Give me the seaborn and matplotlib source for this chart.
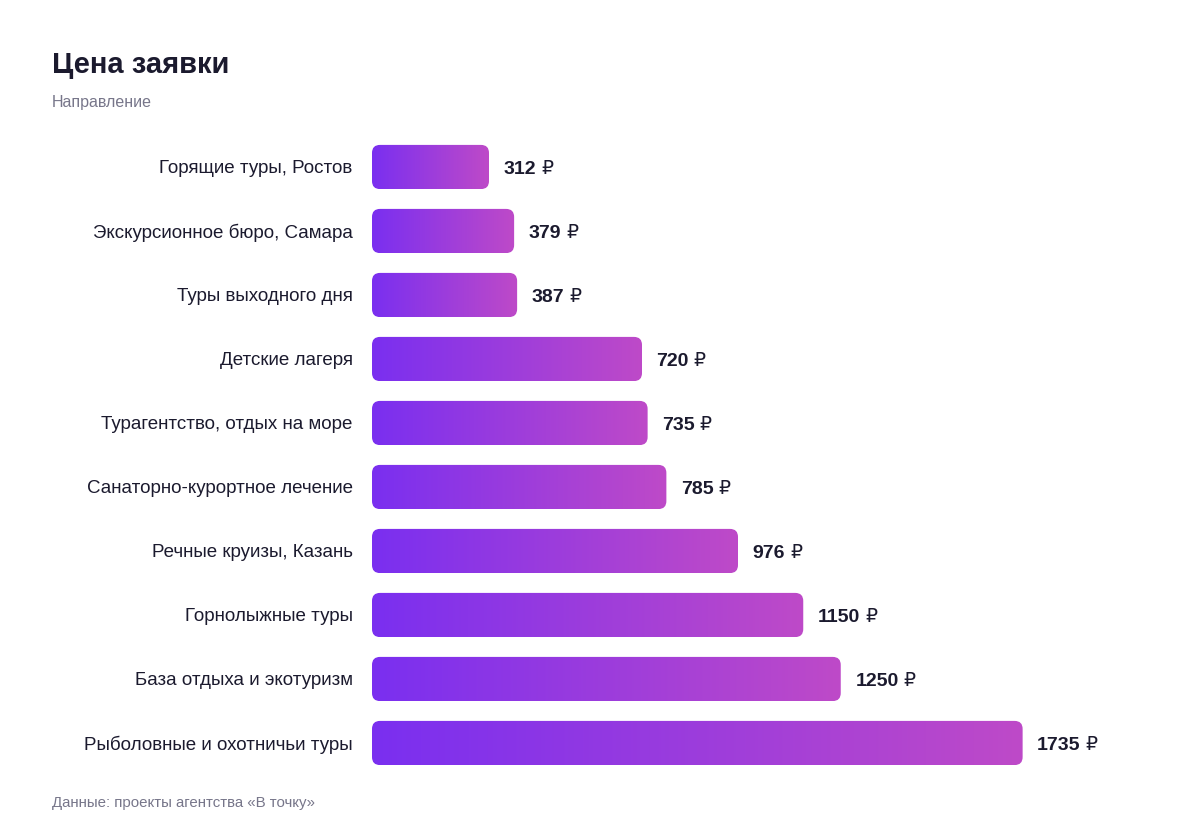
import matplotlib
import matplotlib.pyplot as plt
import numpy as np
import seaborn as sns
from matplotlib.colors import LinearSegmentedColormap
from matplotlib.patches import FancyBboxPatch

matplotlib.use('Agg')

# данные
categories = ["Горящие туры, Ростов", "Экскурсионное бюро, Самара", "Туры выходного дня",
              "Детские лагеря", "Турагентство, отдых на море", "Санаторно-курортное лечение",
              "Речные круизы, Казань", "Горнолыжные туры", "База отдыха и экотуризм",
              "Рыболовные и охотничьи туры"]
values = [312, 379, 387, 720, 735, 785, 976, 1150, 1250, 1735]

title = "Цена заявки"
subtitle = "Направление"
footer = "Данные: проекты агентства «В точку»"

sns.set_theme(style="white")
plt.rcParams['font.family'] = ['Liberation Sans', 'DejaVu Sans']

dark = "#1b1a2e"
gray = "#77768a"
grad = LinearSegmentedColormap.from_list("g", ["#7a2ff0", "#be4ac8"])

fig = plt.figure(figsize=(12, 8.4), dpi=100)
ax = fig.add_axes([0.31, 0.0774, 0.625, 0.7619])

sns.barplot(x=values, y=categories, orient='h', width=0.69, ax=ax, color="#7a2ff0")

xmax = 2000
ax.set_xlim(0, xmax)
ax.set_ylim(len(categories) - 0.5, -0.5)

# пиксели на единицу по осям
px_x = 0.625 * 1200 / xmax
px_y = 0.7619 * 840 / len(categories)
aspect = (1 / px_y) / (1 / px_x)
radius = 8 / px_x

gradient = np.linspace(0, 1, 256).reshape(1, -1)
for p, v in zip(ax.patches, values):
    x0, y0 = p.get_x(), p.get_y()
    w, h = p.get_width(), p.get_height()
    p.set_visible(False)
    box = FancyBboxPatch((x0, y0), w, h,
                         boxstyle=f"round,pad=0,rounding_size={radius}",
                         mutation_aspect=aspect, facecolor='none', edgecolor='none')
    ax.add_patch(box)
    im = ax.imshow(gradient, cmap=grad, extent=[x0, x0 + w, y0 + h, y0],
                   aspect='auto', interpolation='bicubic', zorder=2)
    im.set_clip_path(box)
    t = ax.annotate(f"{v}", (x0 + w, y0 + h / 2), xytext=(10.5, -1.8), textcoords='offset points',
                    ha='left', va='center', fontsize=14, fontweight='bold', color=dark)
    ax.annotate("₽", xy=(1, 0), xycoords=t, xytext=(3.5, 0), textcoords='offset points',
                ha='left', va='bottom', fontsize=13.5, color=dark,
                family=['DejaVu Sans'])

ax.set_xlim(0, xmax)
ax.set_ylim(len(categories) - 0.5, -0.5)
ax.set_xlabel("")
ax.set_ylabel("")
ax.set_xticks([])
ax.tick_params(axis='y', length=0, pad=14, labelsize=13.5, labelcolor=dark)
for s in ax.spines.values():
    s.set_visible(False)

fig.text(52 / 1200, 1 - 65 / 840, title, fontsize=21, fontweight='bold', color=dark,
         ha='left', va='center')
fig.text(52 / 1200, 1 - 102 / 840, subtitle, fontsize=11.5, color=gray, ha='left', va='center')
fig.text(52 / 1200, 1 - 803 / 840, footer, fontsize=10.8, color=gray, ha='left', va='center')

plt.savefig("out.png", dpi=100)
